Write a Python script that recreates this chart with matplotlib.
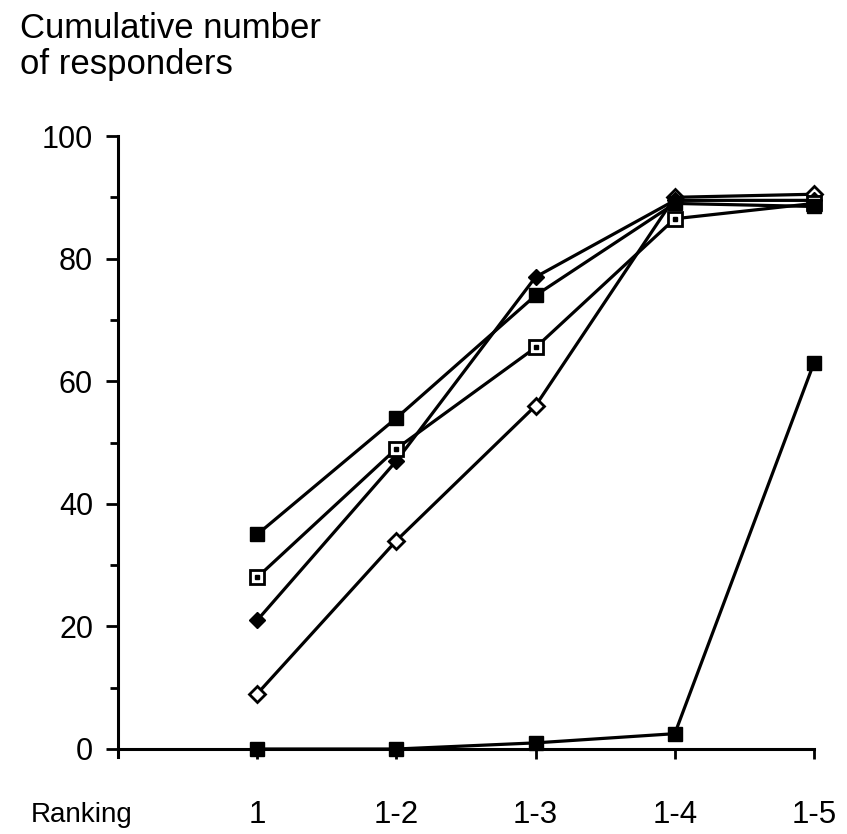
import matplotlib
matplotlib.use("Agg")
from matplotlib import pyplot as plt
from matplotlib.ticker import MultipleLocator

plt.rcParams['font.family'] = ['Liberation Sans', 'DejaVu Sans']

# x positions and labels
ranks = [1, 2, 3, 4, 5]
rank_labels = ["1", "1-2", "1-3", "1-4", "1-5"]

# cumulative number of responders per series
filled_square = [35, 54, 74, 89, 88.5]
open_square = [28, 49, 65.5, 86.5, 89]
filled_diamond = [21, 47, 77, 89.5, 89.5]
open_diamond = [9, 34, 56, 90, 90.5]
bottom_square = [0, 0, 1, 2.5, 63]

fig = plt.figure(figsize=(8.47, 8.34), dpi=100)
ax = fig.add_axes([118 / 847, 1 - 749 / 834, (814 - 118) / 847, (749 - 136) / 834])

lw = 2.3
ax.plot(ranks, bottom_square, color='black', lw=lw, marker='s', ms=10, mfc='black', mec='black', zorder=3)
ax.plot(ranks, open_diamond, color='black', lw=lw, marker='D', ms=8, mfc='white', mec='black', mew=2, zorder=3)
ax.plot(ranks, filled_diamond, color='black', lw=lw, marker='D', ms=8.5, mfc='black', mec='black', zorder=3)
ax.plot(ranks, open_square, color='black', lw=lw, marker='s', ms=10, mfc='white', mec='black', mew=2, zorder=3)
ax.plot(ranks, open_square, ls='none', marker='s', ms=2.5, mfc='black', mec='black', zorder=4)
ax.plot(ranks, filled_square, color='black', lw=lw, marker='s', ms=10, mfc='black', mec='black', zorder=3)

ax.set_xlim(0, 5)
ax.set_ylim(0, 100)
ax.set_xticks(ranks)
ax.set_xticklabels(rank_labels)
ax.yaxis.set_major_locator(MultipleLocator(20))
ax.yaxis.set_minor_locator(MultipleLocator(10))

for s in ['top', 'right']:
    ax.spines[s].set_visible(False)
for s in ['left', 'bottom']:
    ax.spines[s].set_linewidth(2.2)
ax.spines['left'].set_bounds(-1.3, 100)

ax.tick_params(axis='y', which='major', length=9, width=2, pad=9, labelsize=22)
ax.tick_params(axis='y', which='minor', length=6, width=2)
ax.tick_params(axis='x', which='major', length=7.5, width=2, pad=29, labelsize=22.5)
for line in ax.get_lines():
    line.set_clip_on(False)

fig.text(82 / 847, 1 - 815 / 834, "Ranking", ha='center', va='center', fontsize=20)
fig.text(20 / 847, 1 - 12 / 834, "Cumulative number\nof responders", ha='left', va='top',
         fontsize=25, linespacing=1.1)

fig.savefig("out.png", dpi=100)
